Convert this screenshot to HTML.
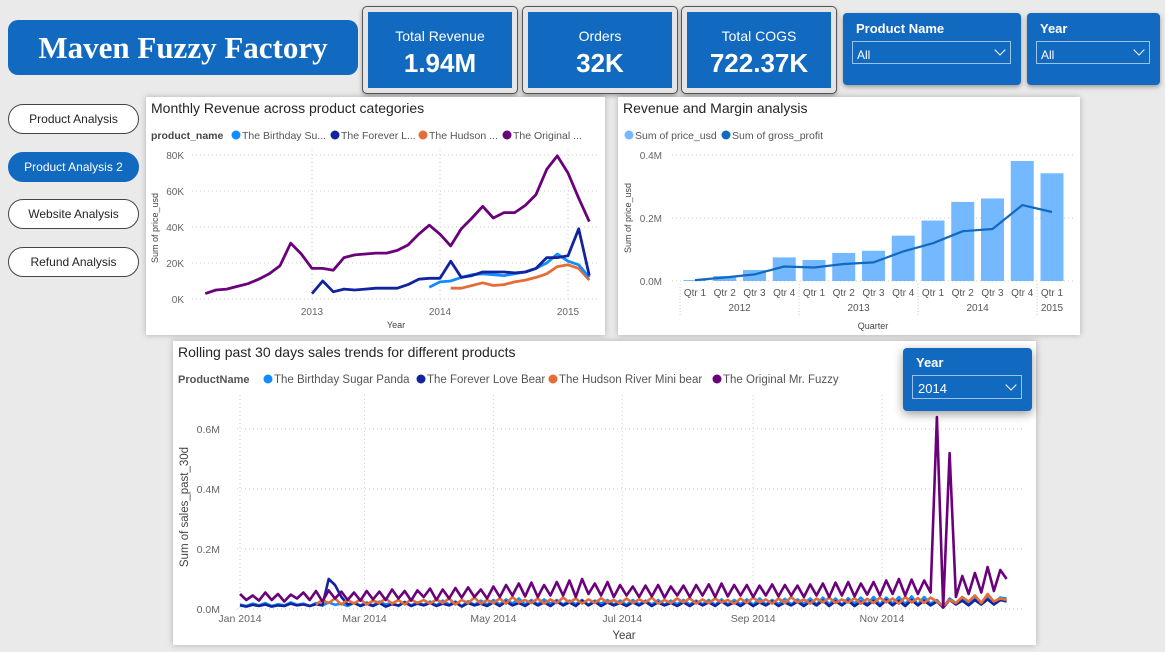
<!DOCTYPE html>
<html><head><meta charset="utf-8">
<style>
*{box-sizing:border-box;margin:0;padding:0}
body{width:1165px;height:652px;background:#eaeaea;font-family:"Liberation Sans",sans-serif;position:relative;overflow:hidden;color:#252423}
.abs{position:absolute}
.title-box{left:8px;top:20px;width:350px;height:55px;background:#1269c0;border-radius:10px;color:#fff;font-family:"Liberation Serif",serif;font-weight:bold;font-size:31px;display:flex;align-items:center;justify-content:center}
.kpi{width:156px;height:88px;top:6px;border:1px solid #555;border-radius:5px;background:#e4e4e4;box-shadow:0 2px 4px rgba(0,0,0,.3)}
.kpi .in{position:absolute;left:5px;top:5px;right:5px;bottom:5px;background:#1269c0;color:#fff;text-align:center}
.kpi .l{font-size:14px;margin-top:16px}
.kpi .v{font-size:26px;font-weight:bold;margin-top:4px}
.slicer{top:13px;height:72px;background:#1269c0;border-radius:4px;color:#fff;box-shadow:0 2px 5px rgba(0,0,0,.35)}
.slicer .h{font-size:13px;font-weight:bold;position:absolute;left:13px;top:8px}
.slicer .dd{position:absolute;left:9px;right:10px;top:28px;height:23px;border:1px solid #9cc3ea;font-size:12px;padding:6px 0 0 4px}
.chev{position:absolute;right:6px;top:4px;width:8px;height:8px;border-right:1.5px solid #fff;border-bottom:1.5px solid #fff;transform:rotate(45deg)}
.nav{left:8px;width:131px;height:30px;border-radius:15px;border:1px solid #444;background:#fff;font-size:12px;display:flex;align-items:center;justify-content:center}
.panel{background:#fff;box-shadow:0 0 6px rgba(0,0,0,.25)}
</style></head><body>
<div class="abs title-box">Maven Fuzzy Factory</div>

<div class="abs kpi" style="left:362px"><div class="in"><div class="l">Total Revenue</div><div class="v">1.94M</div></div></div>
<div class="abs kpi" style="left:522px"><div class="in"><div class="l">Orders</div><div class="v">32K</div></div></div>
<div class="abs kpi" style="left:681px"><div class="in"><div class="l">Total COGS</div><div class="v">722.37K</div></div></div>

<div class="abs slicer" style="left:843px;width:178px"><div class="h">Product Name</div><div class="dd">All<span class="chev"></span></div></div>
<div class="abs slicer" style="left:1027px;width:133px"><div class="h">Year</div><div class="dd">All<span class="chev"></span></div></div>

<div class="abs nav" style="top:104px">Product Analysis</div>
<div class="abs nav" style="top:152px;background:#1269c0;color:#fff;border-color:#1269c0">Product Analysis 2</div>
<div class="abs nav" style="top:199px">Website Analysis</div>
<div class="abs nav" style="top:247px">Refund Analysis</div>

<div class="abs panel" style="left:146px;top:97px;width:459px;height:238px"></div>
<div class="abs panel" style="left:618px;top:97px;width:462px;height:238px"></div>
<div class="abs panel" style="left:173px;top:341px;width:863px;height:304px"></div>

<svg class="abs" style="left:0;top:0" width="1165" height="652" id="svg" font-family="Liberation Sans, sans-serif"></svg>

<div class="abs slicer" style="left:903px;top:348px;width:129px;height:63px;box-shadow:0 3px 10px rgba(0,0,0,.4)"><div class="h" style="left:13px;top:7px">Year</div><div class="dd" style="left:9px;right:10px;top:27px;height:24px;font-size:13px;padding:5px 0 0 5px">2014<span class="chev" style="top:5px"></span></div></div>

<script>
// ---- Chart 1 data (thousands) ----
const c1Years = ['2013','2014','2015'];
const c1YTicks = [0,20,40,60,80];
const c1Original = [3,5,5.5,7,8.5,11,14,18.5,31,25,17,17,16,23,24.5,25,25.5,25.5,27,30,36,41,36,29.5,39,45,51.5,45,48,48,52,58,72,79.5,70,56,43];
const c1OriginalStart = 2;
const c1Forever = [3,10,4,5.5,5,5.5,6,6,6,8,11,11.5,11.5,21,12,13,15,15,15,14.5,15,17,23,23,24,39,13];
const c1ForeverStart = 12;
const c1Birthday = [6.5,9.5,10,12,13.5,14,13.5,13,14,15,17,20,25,21,19,12];
const c1BirthdayStart = 23;
const c1Hudson = [6,6,7.5,9,7.5,8,9.5,10.5,12,14,18,19,17,10.5];
const c1HudsonStart = 25;

// ---- Chart 2 data ----
const c2Quarters = ['Qtr 1','Qtr 2','Qtr 3','Qtr 4','Qtr 1','Qtr 2','Qtr 3','Qtr 4','Qtr 1','Qtr 2','Qtr 3','Qtr 4','Qtr 1'];
const c2Years = ['2012','2013','2014','2015'];
const c2YTicks = [0,0.2,0.4];
const c2Revenue = [0.003,0.016,0.035,0.075,0.067,0.089,0.096,0.144,0.192,0.251,0.262,0.381,0.342];
const c2Profit = [0.003,0.011,0.021,0.046,0.043,0.054,0.059,0.094,0.12,0.158,0.165,0.241,0.219];

// ---- Chart 3 data (thousands, one sample every 3 days of 2014) ----
const c3XLabels = ['Jan 2014','Mar 2014','May 2014','Jul 2014','Sep 2014','Nov 2014'];
const c3XDays = [0,59,120,181,243,304];
const c3YTicks = [0,0.2,0.4,0.6];
const c3Original = [50,30,45,28,55,30,50,25,48,35, 55,30,60,25,62,35,58,30,55,28, 60,32,58,30,65,35,60,28,62,40, 68,30,65,35,70,38,72,40,65,35, 75,40,80,45,85,42,88,40,80,45, 90,45,95,40,100,50,85,45,90,40, 80,45,75,40,78,42,80,38,75,45, 78,40,80,45,82,40,85,42,80,45, 80,40,78,45,82,42,80,45,78,40, 82,45,85,40,88,45,90,42,85,48, 90,45,95,50,100,45,98,50,95,55, 640,5,520,40,110,50,120,55,140,60,130,100];
const c3Birthday = [15,10,18,12,20,10,16,12,22,14, 18,10,20,12,22,14,18,10,20,12, 22,12,25,15,20,10,24,12,22,14, 25,12,28,15,25,10,26,14,28,15, 30,15,32,18,35,15,30,16,32,18, 30,15,28,16,30,14,28,18,30,15, 28,14,30,16,28,15,30,14,28,16, 30,15,28,16,30,14,32,15,30,16, 32,14,35,15,30,16,34,15,32,18, 35,15,38,16,35,14,36,18,38,16, 40,15,38,18,40,16,42,15,40,18, 30,5,35,20,38,18,40,20,42,22,38,35];
const c3Forever = [12,8,14,10,15,8,12,10,18,12, 15,10,16,12,100,80,40,15,20,10, 18,10,20,8,16,12,22,10,18,12, 20,10,18,12,22,8,20,12,18,10, 22,10,25,12,20,10,24,12,22,10, 25,12,22,10,28,12,24,10,22,12, 20,10,22,12,24,10,22,12,20,10, 22,10,24,12,22,10,25,12,22,10, 24,10,22,12,25,10,22,12,24,10, 25,12,28,10,26,12,28,10,25,12, 28,10,30,12,28,10,30,12,28,12, 25,5,30,15,28,12,30,15,32,15,30,25];
const c3Hudson = [null,null,null,null,null,null,null,null,null,null, null,null,15,30,20,35,15,30,18,32, 15,28,20,35,18,30,15,32,20,30, 18,32,20,35,15,30,20,38,18,30, 20,35,18,40,22,30,20,35,18,32, 20,38,22,35,18,32,20,36,22,30, 18,35,20,32,22,38,18,30,20,35, 22,36,18,32,20,35,22,30,18,35, 20,38,22,32,18,35,20,40,22,32, 18,35,22,38,20,32,22,36,18,34, 20,38,22,35,18,40,22,36,20,38, 25,10,30,20,40,25,45,20,50,25,35,30];

const svg = document.getElementById('svg');
const NS = 'http://www.w3.org/2000/svg';
function mk(tag, attrs, text){const e=document.createElementNS(NS,tag);for(const k in attrs)e.setAttribute(k,attrs[k]);if(text!==undefined)e.textContent=text;svg.appendChild(e);return e;}
function txt(x,y,s,size,fill,anchor,name,extra){const e=mk('text',Object.assign({x:x,y:y,'font-size':size,fill:fill,'text-anchor':anchor||'start'},extra||{}),s);


return e;}
function legendDot(x,y,c,name){const e=mk('circle',{cx:x,cy:y,r:4.5,fill:c});


}
function polyline(pts,c,w,name){
  let d='';let pen=false;
  pts.forEach(p=>{ if(p==null){pen=false;return;} d+=(pen?'L':'M')+p[0].toFixed(1)+' '+p[1].toFixed(1)+' '; pen=true;});
  const e=mk('path',{d:d,fill:'none',stroke:c,'stroke-width':w,'stroke-linejoin':'round'});
  
  
}
const cLight='#118dff', cNavy='#12239e', cOrange='#e66c37', cPurple='#6b007b';

// ===== Chart 1 =====
txt(151,113,'Monthly Revenue across product categories',14,'#252423','start','chart1-title');
txt(151,139,'product_name',10.5,'#444','start','chart1-legend-title',{'font-weight':'bold'});
[[cLight,'The Birthday Su...',236],[cNavy,'The Forever L...',335],[cOrange,'The Hudson ...',423],[cPurple,'The Original ...',507]].forEach((l,i)=>{legendDot(l[2],135,l[0],'chart1-legend-dot');txt(l[2]+6,139,l[1],10.5,'#555','start','chart1-legend-entry');});
const x1 = m => 184 + m*128/12;
const y1 = v => 299 - v*144/80;
c1YTicks.forEach(t=>{const g=mk('line',{x1:192,x2:597,y1:y1(t),y2:y1(t),stroke:'#ccc','stroke-dasharray':'1 3'});


txt(184,y1(t)+4,t+'K',10,'#666','end','chart1-y-tick');});
c1Years.forEach((y,i)=>{const x=x1(12*(i+1));const g=mk('line',{x1:x,x2:x,y1:150,y2:299,stroke:'#ccc','stroke-dasharray':'1 3'});


txt(x,315,y,10,'#666','middle','chart1-x-tick');});
txt(396,328,'Year',9,'#444','middle','chart1-x-title');
txt(158,228,'Sum of price_usd',9,'#444','middle','chart1-y-title',{transform:'rotate(-90 158 228)'});
polyline(c1Hudson.map((v,i)=>[x1(c1HudsonStart+i),y1(v)]),cOrange,2.8,'chart1-line-hudson');
polyline(c1Birthday.map((v,i)=>[x1(c1BirthdayStart+i),y1(v)]),cLight,2.8,'chart1-line-birthday');
polyline(c1Forever.map((v,i)=>[x1(c1ForeverStart+i),y1(v)]),cNavy,2.8,'chart1-line-forever');
polyline(c1Original.map((v,i)=>[x1(c1OriginalStart+i),y1(v)]),cPurple,2.8,'chart1-line-original');

// ===== Chart 2 =====
txt(623,113,'Revenue and Margin analysis',14,'#252423','start','chart2-title');
legendDot(629,135,'#74b9ff','chart2-legend-dot');txt(635,139,'Sum of price_usd',10.5,'#555','start','chart2-legend-entry');
legendDot(726,135,'#1269c0','chart2-legend-dot');txt(732,139,'Sum of gross_profit',10.5,'#555','start','chart2-legend-entry');
const x2 = i => 695 + i*29.75;
const y2 = v => 281 - v*126/0.4;
c2YTicks.forEach(t=>{const g=mk('line',{x1:672,x2:1075,y1:y2(t),y2:y2(t),stroke:'#ccc','stroke-dasharray':'1 3'});


txt(662,y2(t)+4,t.toFixed(1)+'M',10,'#666','end','chart2-y-tick');});
c2Revenue.forEach((v,i)=>{const r=mk('rect',{x:x2(i)-11.5,y:y2(v),width:23,height:281-y2(v),fill:'#74b9ff'});

});
polyline(c2Profit.map((v,i)=>[x2(i),y2(v)]),'#1269c0',2.2,'chart2-profit-line');
c2Quarters.forEach((q,i)=>txt(x2(i),296,q,10,'#555','middle','chart2-quarter-tick'));
c2Years.forEach((y,i)=>{const s=i*4, e=Math.min(s+3,12);txt((x2(s)+x2(e))/2,311,y,10,'#555','middle','chart2-year-tick');
const sep=mk('line',{x1:x2(s)-14.9,x2:x2(s)-14.9,y1:284,y2:316,stroke:'#ccc','stroke-dasharray':'1 2'});

});
txt(873,329,'Quarter',9,'#444','middle','chart2-x-title');
txt(631,218,'Sum of price_usd',9,'#444','middle','chart2-y-title',{transform:'rotate(-90 631 218)'});

// ===== Chart 3 =====
txt(178,357,'Rolling past 30 days sales trends for different products',14,'#252423','start','chart3-title');
txt(178,383,'ProductName',11,'#555','start','chart3-legend-title',{'font-weight':'bold'});
[[cLight,'The Birthday Sugar Panda',268],[cNavy,'The Forever Love Bear',421],[cOrange,'The Hudson River Mini bear',553],[cPurple,'The Original Mr. Fuzzy',717]].forEach(l=>{legendDot(l[2],379,l[0],'chart3-legend-dot');txt(l[2]+6,383,l[1],11.5,'#555','start','chart3-legend-entry');});
const x3 = d => 240 + d*642/304;
const y3 = v => 609 - v*300;
c3YTicks.forEach(t=>{const g=mk('line',{x1:237,x2:1025,y1:y3(t),y2:y3(t),stroke:'#ccc','stroke-dasharray':'1 3'});


txt(220,y3(t)+4,t.toFixed(1)+'M',10.5,'#666','end','chart3-y-tick');});
c3XLabels.forEach((l,i)=>{const x=x3(c3XDays[i]);const g=mk('line',{x1:x,x2:x,y1:395,y2:609,stroke:'#ccc','stroke-dasharray':'1 3'});


txt(x,622,l,10.5,'#666','middle','chart3-x-tick');});
txt(624,639,'Year',11.5,'#444','middle','chart3-x-title');
txt(188,507,'Sum of sales_past_30d',11.5,'#444','middle','chart3-y-title',{transform:'rotate(-90 188 507)'});
const s3 = arr => arr.map((v,i)=> v==null?null:[x3(i*3),y3(v/1000)]);
polyline(s3(c3Birthday),cLight,2.6,'chart3-line-birthday');
polyline(s3(c3Forever),cNavy,2.6,'chart3-line-forever');
polyline(s3(c3Hudson),cOrange,2.6,'chart3-line-hudson');
polyline(s3(c3Original),cPurple,2.6,'chart3-line-original');
</script>
</body></html>
